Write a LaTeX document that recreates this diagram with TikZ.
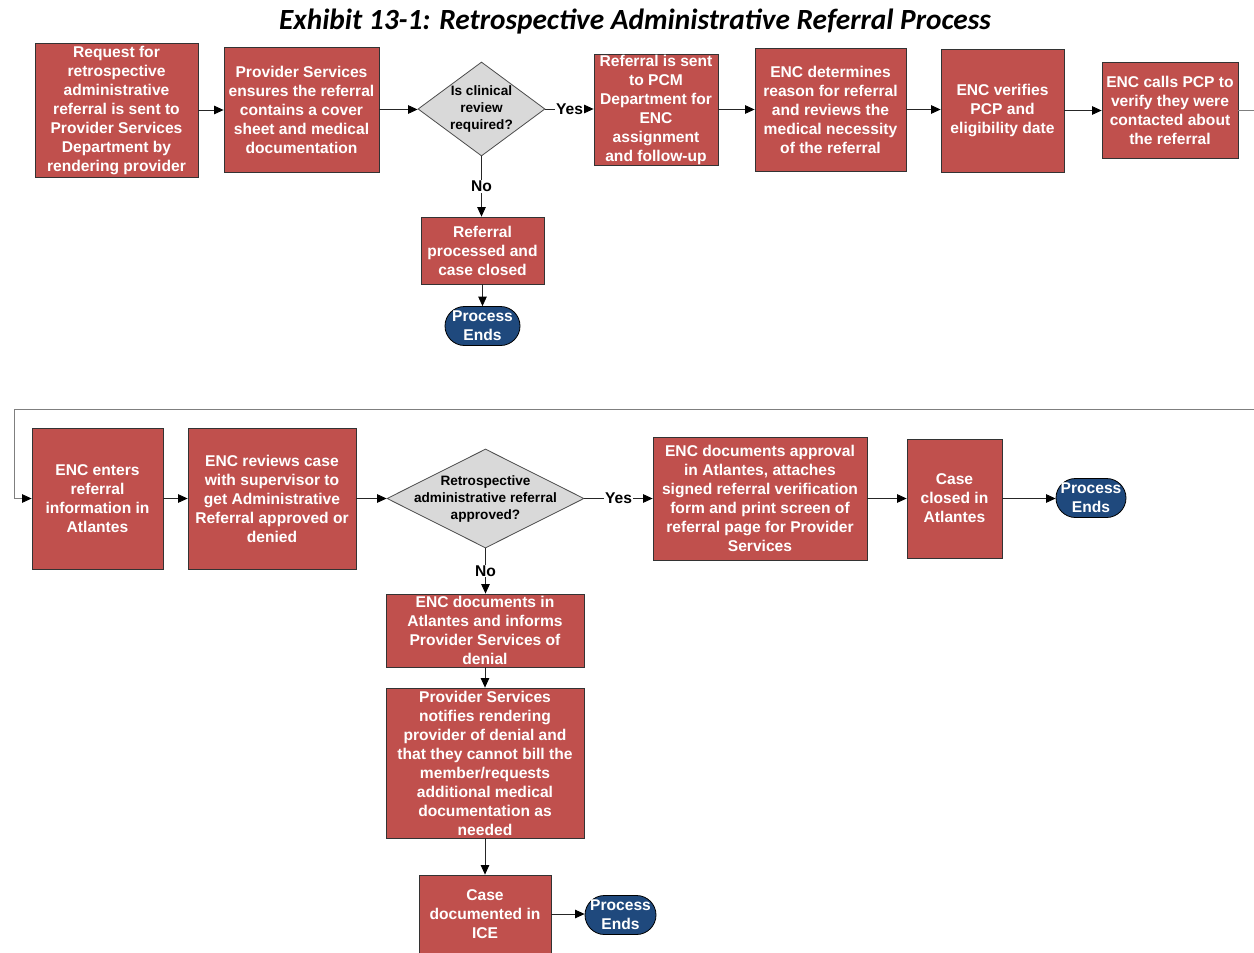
\documentclass[tikz,border=0pt]{standalone}
\usepackage{fontspec}
\setmainfont{Liberation Sans}
\newfontfamily\titlefont{Carlito}
\usetikzlibrary{arrows.meta,shapes.geometric}
\definecolor{boxred}{HTML}{C0504D}
\definecolor{ovalblue}{HTML}{1F497D}
\definecolor{diagray}{HTML}{D9D9D9}
\definecolor{linegray}{HTML}{7F7F7F}
\begin{document}
\begin{tikzpicture}[x=1pt,y=-1pt,
  stepbox/.style={draw=black!80, fill=boxred, text=white, line width=0.8pt,
    inner sep=0pt, align=center, font=\fontsize{15.6}{19}\selectfont\bfseries},
  decision/.style={diamond, draw=black!70, fill=diagray, line width=0.8pt, inner sep=0pt},
  dtext/.style={align=center, inner sep=0pt, text=black, font=\fontsize{13.6}{17}\selectfont\bfseries},
  endoval/.style={draw=black, fill=ovalblue, text=white, line width=0.8pt, rounded corners=19.5pt,
    inner sep=0pt, align=center, font=\fontsize{15.6}{19}\selectfont\bfseries},
  flow/.style={-{Triangle[length=9.5pt,width=8.5pt,color=black]}, line width=0.8pt, draw=black!85},
  lbl/.style={fill=white, inner sep=1pt, font=\fontsize{15.6}{19}\selectfont\bfseries}
]
\useasboundingbox (0,0) rectangle (1254,953);
\node[font=\titlefont\bfseries\itshape\fontsize{29.3}{33}\selectfont] (title) at (635,22)
  {Exhibit 13-1: Retrospective Administrative Referral Process};

% Row 1
\node[stepbox, minimum width=163pt, minimum height=134pt] (b1) at (116.5,110)
  {Request for\\retrospective\\administrative\\referral is sent to\\Provider Services\\Department by\\rendering provider};
\node[stepbox, minimum width=155pt, minimum height=125pt] (b2) at (301.5,109.5)
  {Provider Services\\ensures the referral\\contains a cover\\sheet and medical\\documentation};
\node[decision, minimum width=127pt, minimum height=94pt,
  label={[dtext]center:Is clinical\\review\\required?}] (d1) at (481.5,109) {};
\node[stepbox, minimum width=123pt, minimum height=67pt] (b3) at (482.5,250.5)
  {Referral\\processed and\\case closed};
\node[endoval, minimum width=75pt, minimum height=39pt] (e1) at (482.5,326) {Process\\Ends};
\node[stepbox, minimum width=124pt, minimum height=111pt] (b4) at (656,109.5)
  {Referral is sent\\to PCM\\Department for\\ENC\\assignment\\and follow-up};
\node[stepbox, minimum width=151pt, minimum height=123pt] (b5) at (830.5,109.5)
  {ENC determines\\reason for referral\\and reviews the\\medical necessity\\of the referral};
\node[stepbox, minimum width=123pt, minimum height=123pt] (b6) at (1002.5,110.5)
  {ENC verifies\\PCP and\\eligibility date};
\node[stepbox, minimum width=136pt, minimum height=96pt] (b7) at (1170,110)
  {ENC calls PCP to\\verify they were\\contacted about\\the referral};
\coordinate (edgeA) at (1254,110);
\coordinate (edgeB) at (1254,409);

% Row 2
\node[stepbox, minimum width=131pt, minimum height=141pt] (b8) at (97.5,498.5)
  {ENC enters\\referral\\information in\\Atlantes};
\node[stepbox, minimum width=168pt, minimum height=141pt] (b9) at (272,498.5)
  {ENC reviews case\\with supervisor to\\get Administrative\\Referral approved or\\denied};
\node[decision, minimum width=197pt, minimum height=99pt,
  label={[dtext]center:Retrospective\\administrative referral\\approved?}] (d2) at (485.5,498.5) {};
\node[stepbox, minimum width=214pt, minimum height=123pt] (b10) at (760,498.5)
  {ENC documents approval\\in Atlantes, attaches\\signed referral verification\\form and print screen of\\referral page for Provider\\Services};
\node[stepbox, minimum width=95pt, minimum height=119pt] (b11) at (954.5,498.5)
  {Case\\closed in\\Atlantes};
\node[endoval, minimum width=70pt, minimum height=39pt] (e2) at (1091,498) {Process\\Ends};
\node[stepbox, minimum width=198pt, minimum height=73pt] (b12) at (485,630.5)
  {ENC documents in\\Atlantes and informs\\Provider Services of\\denial};
\node[stepbox, minimum width=198pt, minimum height=150pt] (b13) at (485,763)
  {Provider Services\\notifies rendering\\provider of denial and\\that they cannot bill the\\member/requests\\additional medical\\documentation as\\needed};
\node[stepbox, minimum width=132pt, minimum height=78pt] (b14) at (485,914)
  {Case\\documented in\\ICE};
\node[endoval, minimum width=71pt, minimum height=39pt] (e3) at (620.5,915) {Process\\Ends};

% Connectors row 1
\draw[flow] (b1.east) -- (b1.east -| b2.west);
\draw[flow] (b2.east) -- (b2.east -| d1.west);
\draw[flow] (d1.east) -- node[lbl] (yes1) {Yes} (d1.east -| b4.west);
\draw[flow] (b4.east) -- (b4.east -| b5.west);
\draw[flow] (b5.east) -- (b5.east -| b6.west);
\draw[flow] (b6.east) -- (b6.east -| b7.west);
\draw[line width=0.8pt, draw=linegray] (b7.east) -- (edgeA);
\draw[flow] (d1.south) -- node[lbl] (no1) {No} (d1.south |- b3.north);
\draw[flow] (b3.south) -- (b3.south |- e1.north);

% Loop connector
\draw[flow, draw=linegray] (edgeB) -- (14,409) |- (b8.west);

% Connectors row 2
\draw[flow] (b8.east) -- (b8.east -| b9.west);
\draw[flow] (b9.east) -- (b9.east -| d2.west);
\draw[flow] (d2.east) -- node[lbl] (yes2) {Yes} (d2.east -| b10.west);
\draw[flow] (b10.east) -- (b10.east -| b11.west);
\draw[flow] (b11.east) -- (b11.east -| e2.west);
\draw[flow] (d2.south) -- node[lbl] (no2) {No} (d2.south |- b12.north);
\draw[flow] (b12.south) -- (b12.south |- b13.north);
\draw[flow] (b13.south) -- (b13.south |- b14.north);
\draw[flow] (b14.east) -- (b14.east -| e3.west);
\end{tikzpicture}
\end{document}
